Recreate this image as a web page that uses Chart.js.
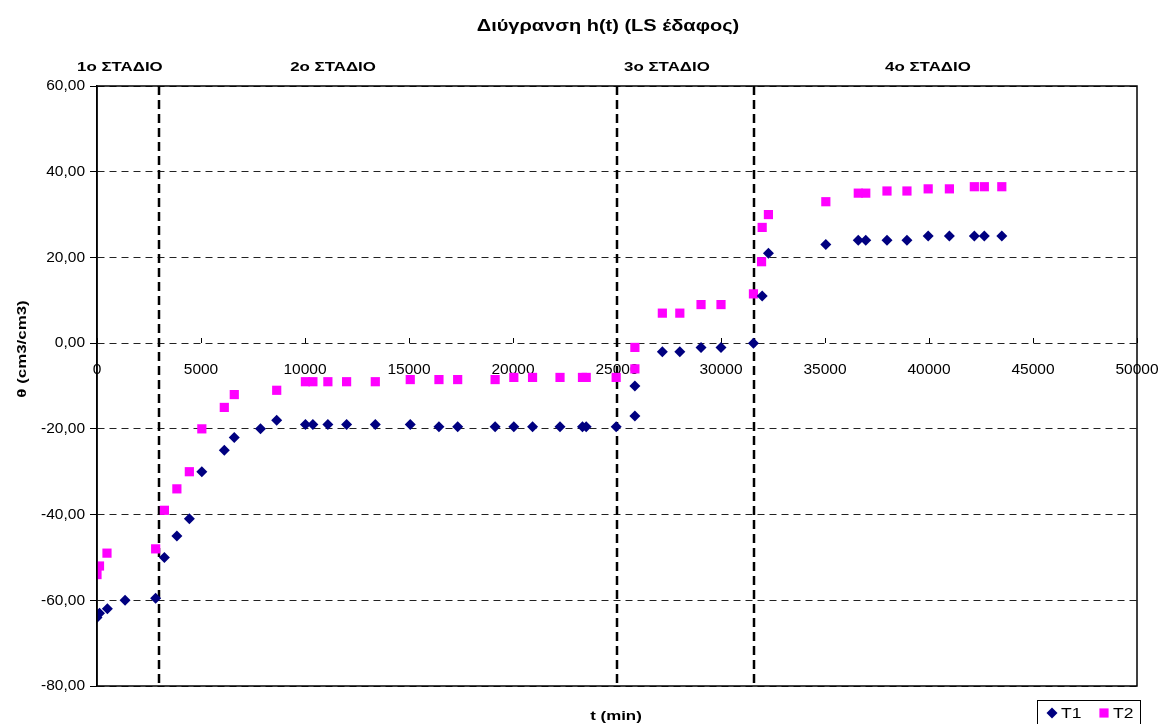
<!DOCTYPE html>
<html lang="el">
<head>
  <meta charset="UTF-8" />
  <title>Διύγρανση h(t) (LS έδαφος)</title>
  <script src="https://cdn.jsdelivr.net/npm/chart.js"></script>
  <style>
    html, body { margin: 0; padding: 0; background: #fff; }
    #wrap { width: 1159px; height: 724px; }
  </style>
</head>
<body>
  <div id="wrap"><canvas id="grafico" width="1159" height="724"></canvas></div>

  <script>
    // textos
    const chartTitle = 'Διύγρανση h(t) (LS έδαφος)';
    const xTitle = 't (min)';
    const yTitle = 'θ (cm3/cm3)';
    const seriesNames = ['T1', 'T2'];

    // T1 (diamonds)
    const t1Time = [0, 120, 500, 1350, 2820, 3240, 3840, 4440, 5040, 6120, 6600, 7860, 8640,
      10020, 10380, 11100, 12000, 13380, 15060, 16440, 17340, 19140, 20040, 20940, 22260,
      23340, 23520, 24960, 25860, 25860, 27180, 28020, 29040, 30000, 31560, 31980, 32280,
      35040, 36600, 36960, 37980, 38940, 39960, 40980, 42180, 42660, 43500];
    const t1Val = [-64, -63, -62, -60, -59.5, -50, -45, -41, -30, -25, -22, -20, -18,
      -19, -19, -19, -19, -19, -19, -19.5, -19.5, -19.5, -19.5, -19.5, -19.5,
      -19.5, -19.5, -19.5, -17, -10, -2, -2, -1, -1, 0, 11, 21,
      23, 24, 24, 24, 24, 25, 25, 25, 25, 25];

    // T2 (squares)
    const t2Time = [0, 120, 480, 2820, 3240, 3840, 4440, 5040, 6120, 6600, 8640,
      10020, 10380, 11100, 12000, 13380, 15060, 16440, 17340, 19140, 20040, 20940, 22260,
      23340, 23520, 24960, 25860, 25860, 27180, 28020, 29040, 30000, 31560, 31950, 31980, 32280,
      35040, 36600, 36960, 37980, 38940, 39960, 40980, 42180, 42660, 43500];
    const t2Val = [-54, -52, -49, -48, -39, -34, -30, -20, -15, -12, -11,
      -9, -9, -9, -9, -9, -8.5, -8.5, -8.5, -8.5, -8, -8, -8,
      -8, -8, -8, -6, -1, 7, 7, 9, 9, 11.5, 19, 27, 30,
      33, 35, 35, 35.5, 35.5, 36, 36, 36.5, 36.5, 36.5];

    // stadia
    const stageBounds = [3000, 25000, 31600];
    const stageNames = ['1o ΣΤΑΔΙΟ', '2o ΣΤΑΔΙΟ', '3o ΣΤΑΔΙΟ', '4o ΣΤΑΔΙΟ'];
    const stageLabelAt = [1100, 11350, 27400, 39950];

    // axes
    const xMin = 0, xMax = 50000, xStep = 5000;
    const yMin = -80, yMax = 60, yStep = 20;

    const FONT = "'Liberation Sans', Arial, sans-serif";
    const STRETCH = 1.25; // o original tem o texto esticado na horizontal

    function pontos(ts, vs) {
      return ts.map((t, i) => ({ x: t, y: vs[i] }));
    }

    function texto(ctx, str, x, y, font, rot) {
      ctx.save();
      ctx.translate(x, y);
      if (rot) ctx.rotate(rot);
      ctx.scale(STRETCH, 1);
      ctx.font = font;
      ctx.fillText(str, 0, 0);
      ctx.restore();
    }

    const extras = {
      id: 'extras',
      beforeDatasetsDraw(chart) {
        const ctx = chart.ctx;
        const area = chart.chartArea;
        const xs = chart.scales.x;
        ctx.save();
        ctx.strokeStyle = '#000';
        ctx.lineWidth = 2.5;
        ctx.setLineDash([9, 5]);
        stageBounds.forEach(b => {
          const px = Math.round(xs.getPixelForValue(b));
          ctx.beginPath();
          ctx.moveTo(px, area.top);
          ctx.lineTo(px, area.bottom);
          ctx.stroke();
        });
        ctx.restore();
      },
      afterDraw(chart) {
        const ctx = chart.ctx;
        const area = chart.chartArea;
        const xs = chart.scales.x;
        ctx.save();

        // moldura da area
        ctx.strokeStyle = '#000';
        ctx.lineWidth = 1.5;
        ctx.strokeRect(area.left, area.top, area.right - area.left, area.bottom - area.top);

        ctx.fillStyle = '#000';
        ctx.textAlign = 'center';
        ctx.textBaseline = 'middle';

        // titulo
        texto(ctx, chartTitle, 608, 27, 'bold 16px ' + FONT);

        // nomes dos estagios
        stageNames.forEach((s, i) => {
          texto(ctx, s, xs.getPixelForValue(stageLabelAt[i]), 67, 'bold 13.5px ' + FONT);
        });

        // titulos dos eixos
        texto(ctx, xTitle, 616, 716, 'bold 13.5px ' + FONT);
        texto(ctx, yTitle, 22, 349, 'bold 13.5px ' + FONT, -Math.PI / 2);

        // legenda
        const lx = 1037, ly = 700;
        ctx.strokeStyle = '#000';
        ctx.lineWidth = 1;
        ctx.strokeRect(lx + 0.5, ly + 0.5, 103, 30);
        ctx.textAlign = 'left';
        const offs = [15, 67];
        chart.data.datasets.forEach((ds, i) => {
          ctx.fillStyle = ds.backgroundColor;
          Chart.helpers.drawPoint(ctx, {
            pointStyle: ds.pointStyle, radius: ds.pointRadius, rotation: 0, borderWidth: 0
          }, lx + offs[i], ly + 13);
          ctx.fillStyle = '#000';
          texto(ctx, ds.label, lx + offs[i] + 9, ly + 14, '14px ' + FONT);
        });

        ctx.restore();
      }
    };

    new Chart(document.getElementById('grafico'), {
      type: 'scatter',
      data: {
        datasets: [
          {
            label: seriesNames[0],
            data: pontos(t1Time, t1Val),
            pointStyle: 'rectRot',
            pointRadius: 5.5,
            backgroundColor: '#000080',
            borderColor: '#000080',
            borderWidth: 0
          },
          {
            label: seriesNames[1],
            data: pontos(t2Time, t2Val),
            pointStyle: 'rect',
            pointRadius: 6.5,
            backgroundColor: '#FF00FF',
            borderColor: '#FF00FF',
            borderWidth: 0
          }
        ]
      },
      options: {
        responsive: false,
        animation: false,
        events: [],
        layout: { padding: { left: 0, right: 22, top: 86, bottom: 38 } },
        plugins: {
          legend: { display: false },
          title: { display: false },
          tooltip: { enabled: false }
        },
        scales: {
          x: {
            type: 'linear',
            position: { y: 0 },
            min: xMin, max: xMax,
            afterFit(s) { s.height = 0; s.paddingLeft = 0; s.paddingRight = 0; },
            ticks: {
              stepSize: xStep,
              maxRotation: 0,
              autoSkip: false,
              padding: 22,
              color: '#000',
              font: { family: FONT, size: 15.5 },
              callback: v => String(v)
            },
            grid: {
              display: true,
              drawOnChartArea: false,
              drawTicks: true,
              tickLength: -5,
              tickColor: '#000',
              tickWidth: 1
            },
            border: { display: false }
          },
          y: {
            min: yMin, max: yMax,
            afterFit(s) { s.width = 97; s.paddingTop = 0; s.paddingBottom = 0; },
            ticks: {
              stepSize: yStep,
              padding: 5,
              color: '#000',
              font: { family: FONT, size: 15.5 },
              callback: v => v.toFixed(2).replace('.', ',')
            },
            grid: {
              color: '#222',
              lineWidth: 1,
              tickLength: 7,
              tickColor: '#000'
            },
            border: { display: true, color: '#000', width: 1.5, dash: [7, 5] }
          }
        }
      },
      plugins: [extras]
    });
  </script>
</body>
</html>
